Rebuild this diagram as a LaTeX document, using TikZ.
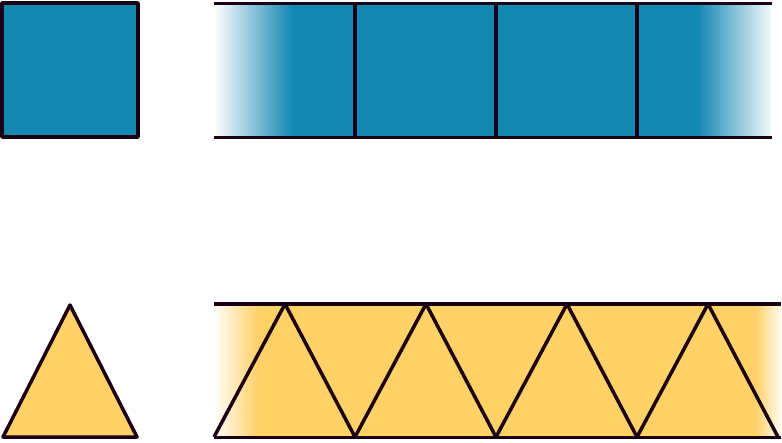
\documentclass[tikz,border=0pt]{standalone}
\usepackage{tikz}
\definecolor{tileblue}{RGB}{19,137,178}
\definecolor{tileyellow}{RGB}{255,209,102}
\definecolor{edge}{RGB}{26,0,20}

\begin{document}
\begin{tikzpicture}[x=1pt,y=-1pt,line width=3.5pt,line join=round,
    outline/.style={draw=edge}]

    \useasboundingbox (0,0) rectangle (782,442);

    % single tiles
    \draw[outline,fill=tileblue](2,3)rectangle(138,137);
    \draw[outline,fill=tileyellow](70,305)--(137,437)--(3,437)--cycle;

    % square strip
    \begin{scope}
        \clip(216,4)rectangle(771,137);
        \fill[tileblue](216,4)rectangle(771,137);
        \shade[left color=white,right color=tileblue](214,4)rectangle(292,137);
        \shade[left color=tileblue,right color=white](698,4)rectangle(775,137);
    \end{scope}
    \foreach \x in {355,496,637}
        \draw[outline](\x,3)--(\x,137);
    \draw[outline](214,3.5)--(772,3.5);
    \draw[outline](214,137.5)--(772,137.5);

    % triangle strip
    \begin{scope}
        \clip(216,304)rectangle(781,437);
        \fill[tileyellow](216,304)rectangle(781,437);
        \shade[left color=white,right color=tileyellow](213,304)rectangle(258,437);
        \shade[left color=tileyellow,right color=white](755,304)rectangle(784,437);
    \end{scope}
    \foreach \x in {214,355,496,637}
        \draw[outline](\x,437)--(\x+71,304)--(\x+141,437);
    \draw[outline](214,304)--(781,304);
    \draw[outline](214,437.5)--(781,437.5);

\end{tikzpicture}
\end{document}
